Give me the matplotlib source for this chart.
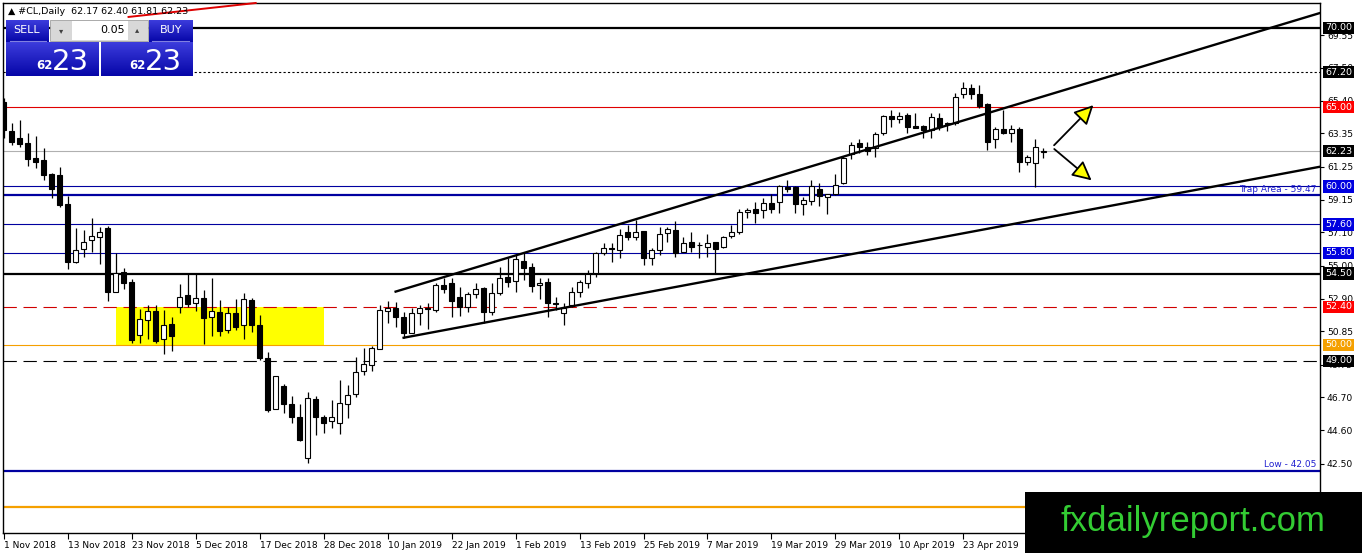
import matplotlib
matplotlib.use("Agg")
import matplotlib.pyplot as plt
import matplotlib.transforms as mtransforms
from matplotlib.patches import Rectangle, FancyArrowPatch
import numpy as np

# daily OHLC of #CL, 1 Nov 2018 - 8 May 2019
opens = [65.35, 63.50, 63.03, 62.76, 61.77, 61.67, 60.78, 60.72, 58.89, 55.25,
         56.03, 56.62, 56.79, 57.40, 53.36, 54.62, 53.99, 50.63, 51.56, 52.14,
         50.35, 51.30, 52.41, 53.15, 52.62, 52.94, 51.78, 52.10, 50.94, 52.00,
         51.26, 52.83, 51.26, 49.15, 45.94, 47.41, 46.27, 45.43, 42.85, 46.57,
         45.43, 45.22, 45.10, 46.27, 46.88, 48.35, 48.73, 49.72, 52.16, 52.31,
         51.74, 50.77, 51.99, 52.31, 52.20, 53.78, 53.93, 53.00, 52.41, 53.19,
         53.57, 52.10, 53.25, 54.26, 54.03, 55.31, 54.89, 53.78, 53.99, 52.66,
         52.03, 52.52, 53.36, 53.92, 54.56, 55.77, 56.09, 55.99, 57.10, 56.83,
         57.18, 55.46, 55.99, 57.04, 57.25, 55.88, 56.47, 56.30, 56.16, 56.47,
         56.16, 56.87, 57.14, 58.36, 58.57, 58.51, 58.97, 58.99, 59.98, 59.98,
         58.87, 59.10, 59.84, 59.31, 59.52, 60.24, 62.04, 62.72, 62.46, 62.40,
         63.34, 64.44, 64.23, 64.50, 63.81, 63.81, 63.55, 64.29, 64.02, 63.97,
         65.83, 66.18, 65.83, 65.17, 62.97, 63.60, 63.39, 63.62, 61.56, 61.45,
         62.17]
highs = [65.60, 64.02, 64.19, 63.35, 63.18, 62.40, 60.82, 61.23, 59.40, 57.36,
         57.25, 58.03, 57.42, 57.50, 55.82, 54.83, 54.14, 52.25, 52.52, 52.52,
         52.20, 51.78, 53.84, 54.52, 54.52, 53.47, 54.20, 52.83, 52.41, 52.88,
         53.30, 52.94, 51.89, 49.57, 48.04, 47.53, 46.78, 46.27, 47.05, 46.78,
         45.58, 46.53, 47.79, 47.47, 49.22, 49.79, 49.93, 52.52, 52.79, 52.70,
         52.10, 52.31, 52.52, 52.66, 53.93, 54.20, 54.20, 53.68, 53.36, 53.93,
         53.68, 53.89, 54.94, 55.46, 55.67, 55.77, 55.14, 54.20, 54.20, 53.04,
         52.62, 53.67, 54.09, 54.72, 55.88, 56.41, 56.41, 57.29, 57.56, 57.88,
         57.18, 56.09, 57.46, 57.46, 57.84, 56.83, 57.14, 56.51, 57.00, 56.51,
         56.87, 57.56, 58.55, 58.62, 59.04, 59.25, 59.50, 60.09, 60.40, 60.02,
         59.35, 60.40, 60.23, 59.52, 60.76, 61.92, 62.82, 62.97, 62.82, 63.45,
         64.50, 64.82, 64.71, 64.65, 64.65, 63.87, 64.61, 64.61, 64.08, 65.91,
         66.60, 66.46, 66.39, 65.24, 63.77, 64.82, 63.87, 63.72, 61.98, 62.97,
         62.40]
lows = [63.03, 62.61, 62.51, 61.29, 61.18, 60.41, 59.25, 58.72, 54.77, 55.15,
        55.57, 55.88, 55.11, 52.79, 53.36, 53.51, 50.10, 50.10, 50.35, 50.10,
        49.41, 49.64, 52.04, 52.41, 52.16, 50.06, 50.56, 50.56, 50.73, 50.94,
        50.35, 50.84, 49.05, 45.79, 45.94, 45.73, 45.10, 43.96, 42.53, 44.32,
        44.42, 44.74, 44.36, 45.37, 46.74, 48.10, 48.35, 49.72, 51.36, 51.15,
        50.46, 50.77, 51.26, 50.98, 52.10, 53.25, 51.78, 51.83, 52.10, 52.94,
        51.40, 51.89, 53.15, 53.68, 53.36, 54.09, 53.36, 52.87, 51.78, 52.20,
        51.25, 52.41, 53.04, 53.57, 54.26, 55.67, 55.25, 55.46, 56.62, 56.62,
        55.04, 55.04, 55.67, 56.51, 55.56, 55.88, 55.88, 55.46, 55.57, 54.52,
        56.09, 56.72, 57.00, 57.99, 57.71, 57.99, 58.30, 58.34, 59.67, 58.30,
        58.17, 58.83, 58.76, 58.26, 59.46, 60.15, 61.71, 62.13, 61.98, 61.83,
        63.24, 63.77, 63.98, 63.34, 63.66, 63.03, 63.03, 63.55, 63.51, 63.87,
        65.55, 65.49, 64.92, 62.29, 62.40, 63.28, 62.82, 60.93, 61.35, 59.98,
        61.81]
closes = [63.56, 62.82, 62.68, 61.75, 61.56, 60.72, 59.82, 58.83, 55.25, 55.99,
          56.52, 56.87, 57.15, 53.32, 54.56, 53.89, 50.31, 51.62, 52.16, 50.27,
          51.26, 50.58, 53.04, 52.58, 52.94, 51.72, 52.16, 50.90, 52.00, 51.15,
          52.88, 51.26, 49.15, 45.89, 48.04, 46.27, 45.43, 44.00, 46.63, 45.43,
          45.10, 45.43, 46.32, 46.84, 48.27, 48.77, 49.79, 52.20, 52.31, 51.74,
          50.77, 51.99, 52.31, 52.25, 53.78, 53.51, 52.79, 52.41, 53.19, 53.51,
          52.10, 53.25, 54.20, 53.99, 55.40, 54.83, 53.71, 53.88, 52.62, 52.58,
          52.31, 53.36, 53.99, 54.47, 55.77, 56.09, 56.05, 56.93, 56.83, 57.10,
          55.46, 55.99, 56.97, 57.29, 55.82, 56.45, 56.20, 56.28, 56.41, 56.03,
          56.83, 57.10, 58.36, 58.51, 58.34, 58.97, 58.57, 60.02, 59.84, 58.87,
          59.14, 60.02, 59.40, 59.52, 60.09, 61.77, 62.61, 62.51, 62.23, 63.30,
          64.46, 64.23, 64.46, 63.72, 63.70, 63.55, 64.35, 63.77, 63.91, 65.66,
          66.19, 65.83, 65.09, 62.82, 63.60, 63.39, 63.60, 61.56, 61.83, 62.50,
          62.23]

date_labels = ["1 Nov 2018", "13 Nov 2018", "23 Nov 2018", "5 Dec 2018", "17 Dec 2018",
               "28 Dec 2018", "10 Jan 2019", "22 Jan 2019", "1 Feb 2019", "13 Feb 2019",
               "25 Feb 2019", "7 Mar 2019", "19 Mar 2019", "29 Mar 2019", "10 Apr 2019",
               "23 Apr 2019"]
label_step = 8  # one date label every 8 bars

price_ticks = [69.55, 67.50, 65.40, 63.35, 61.25, 59.15, 57.10, 55.00, 52.90,
               50.85, 48.75, 46.70, 44.60, 42.50, 40.45]

# horizontal levels: price, colour, style, width, axis label colour (None = no label)
levels = [
    (70.00, "black", "-", 1.6, "black"),
    (67.20, "black", (0, (2, 2)), 0.8, "black"),
    (65.00, "#e00000", "-", 0.8, "#ff0000"),
    (62.23, "#b0b0b0", "-", 0.8, "black"),
    (60.00, "#0000a0", "-", 0.8, "#0000e0"),
    (59.47, "#0000a0", "-", 1.6, None),
    (57.60, "#0000a0", "-", 0.8, "#0000e0"),
    (55.80, "#0000a0", "-", 0.8, "#0000e0"),
    (54.50, "black", "-", 1.6, "black"),
    (52.40, "#d00000", (0, (12, 6)), 0.8, "#ff0000"),
    (50.00, "#f5a000", "-", 0.8, "#f5a000"),
    (49.00, "black", (0, (12, 6)), 0.8, "black"),
    (42.05, "#0000a0", "-", 1.6, None),
    (39.80, "#f5a000", "-", 1.6, None),
]

# trend lines (bar index, price)
channel_upper = [(49, 53.36), (164.6, 70.94)]
channel_lower = [(50, 50.45), (164.6, 61.24)]
red_trend = [(15.6, 70.69), (31.5, 71.57)]
box_zone = (14, 40, 50.0, 52.4)
arrow_start = (131.1, 62.47)
arrow_ends = [(136.5, 65.25), (136.3, 60.27)]

W, H = 1362, 553
fig = plt.figure(figsize=(W / 100, H / 100), dpi=100)
fig.patch.set_facecolor("white")
ax = fig.add_axes([3 / W, 20 / H, 1317 / W, 530 / H])
ax.set_xlim(-0.1, 164.6)
ax.set_ylim(38.13, 71.57)

x = np.arange(len(opens))
o = np.array(opens); h = np.array(highs); l = np.array(lows); c = np.array(closes)
up = c >= o

# yellow zone
ax.add_patch(Rectangle((box_zone[0], box_zone[2]), box_zone[1] - box_zone[0],
                       box_zone[3] - box_zone[2], facecolor="#ffff00", edgecolor="none", zorder=1))

for price, col, ls, lw, lab in levels:
    ax.axhline(price, color=col, linestyle=ls, linewidth=lw, zorder=1.5)

# candles
ax.vlines(x, l, h, color="black", linewidth=0.9, zorder=3)
bottoms = np.minimum(o, c)
heights = np.maximum(np.abs(c - o), 0.04)
ax.bar(x, heights, bottom=bottoms, width=0.62,
       color=np.where(up, "white", "black"), edgecolor="black", linewidth=0.8, zorder=4)

for line in (channel_upper, channel_lower):
    ax.plot([p[0] for p in line], [p[1] for p in line], color="black", linewidth=1.7, zorder=5)
ax.plot([p[0] for p in red_trend], [p[1] for p in red_trend], color="#dd0000",
        linewidth=1.4, zorder=5, clip_on=False)

for end in arrow_ends:
    ax.add_patch(FancyArrowPatch(arrow_start, end, arrowstyle="-|>,head_length=0.9,head_width=0.45",
                                 mutation_scale=13, facecolor="#ffff00", edgecolor="black",
                                 linewidth=1.3, zorder=6))

ax.text(164.2, 59.55, "Trap Area - 59.47", color="#2020d0", fontsize=6.5,
        ha="right", va="bottom", zorder=6)
ax.text(164.2, 42.15, "Low - 42.05", color="#2020d0", fontsize=6.5,
        ha="right", va="bottom", zorder=6)

# axes styling
for s in ax.spines.values():
    s.set_color("black")
    s.set_linewidth(1.0)
ax.yaxis.tick_right()
ax.set_yticks(price_ticks)
ax.set_yticklabels([f"{p:.2f}" for p in price_ticks])
ax.tick_params(axis="y", direction="out", length=3, pad=2, labelsize=6.6, colors="black")
ax.set_xticks([i * label_step for i in range(len(date_labels))])
ax.set_xticklabels(date_labels, ha="left")
ax.tick_params(axis="x", direction="out", length=4, pad=2, labelsize=6.5, colors="black")

# coloured price labels on the axis
trans = mtransforms.blended_transform_factory(ax.transAxes, ax.transData)
marks = [(p, lab) for p, col, ls, lw, lab in levels if lab is not None] + [(closes[-1], "black")]
for price, lab in marks:
    ax.text(1 + 5 / 1317, price, f"{price:.2f}", transform=trans, color="white", fontsize=6.8,
            ha="left", va="center", zorder=10, clip_on=False,
            bbox=dict(boxstyle="square,pad=0.18", facecolor=lab, edgecolor="none"))

# overlay in pixel coordinates: header, trade panel, watermark
ov = fig.add_axes([0, 0, 1, 1])
ov.set_xlim(0, W)
ov.set_ylim(H, 0)
ov.axis("off")
ov.patch.set_alpha(0)

ov.text(8, 11, f"\u25b2 #CL,Daily  {opens[-1]:.2f} {highs[-1]:.2f} {lows[-1]:.2f} {closes[-1]:.2f}",
        fontsize=6.8, va="center", ha="left", color="black")

grad = np.linspace(0, 1, 64).reshape(-1, 1)
blue = matplotlib.colors.LinearSegmentedColormap.from_list("mt", ["#3c3cdc", "#0606a8"])
for (x0, y0, x1, y1) in [(6, 20, 49, 42), (149, 20, 193, 42), (6, 42, 99, 76), (101, 42, 193, 76)]:
    ov.imshow(grad, cmap=blue, extent=(x0, x1, y1, y0), aspect="auto", zorder=2)
ov.add_patch(Rectangle((99, 42), 2, 34, facecolor="white", edgecolor="none", zorder=3))
ov.plot([10, 46], [41, 41], color="#8080e0", linewidth=0.8, zorder=3)
ov.plot([152, 189], [41, 41], color="#8080e0", linewidth=0.8, zorder=3)
ov.add_patch(Rectangle((50, 20), 98, 21, facecolor="#d8d8d8", edgecolor="#a0a0a0", linewidth=0.6, zorder=3))
ov.add_patch(Rectangle((72, 21), 56, 19, facecolor="white", edgecolor="none", zorder=4))
ov.text(61, 31, "\u25be", fontsize=6, ha="center", va="center", color="#404040", zorder=5)
ov.text(137, 30, "\u25b4", fontsize=6, ha="center", va="center", color="#404040", zorder=5)
ov.text(125, 30, "0.05", fontsize=8, ha="right", va="center", color="black", zorder=5)
ov.text(27, 30, "SELL", fontsize=8, ha="center", va="center", color="white", zorder=5)
ov.text(171, 30, "BUY", fontsize=8, ha="center", va="center", color="white", zorder=5)
for x0 in (36, 129):
    ov.text(x0, 69, "62", fontsize=8.5, fontweight="bold", ha="left", va="baseline", color="white", zorder=5)
    ov.text(x0 + 16, 70, "23", fontsize=21, ha="left", va="baseline", color="white", zorder=5)

ov.add_patch(Rectangle((1025, 492), W - 1025, H - 492, facecolor="black", edgecolor="none", zorder=8))
ov.text(1193, 522, "fxdailyreport.com", family="Liberation Sans", fontsize=25,
        color="#33cc33", ha="center", va="center", zorder=9)

fig.savefig("out.png", dpi=100)
